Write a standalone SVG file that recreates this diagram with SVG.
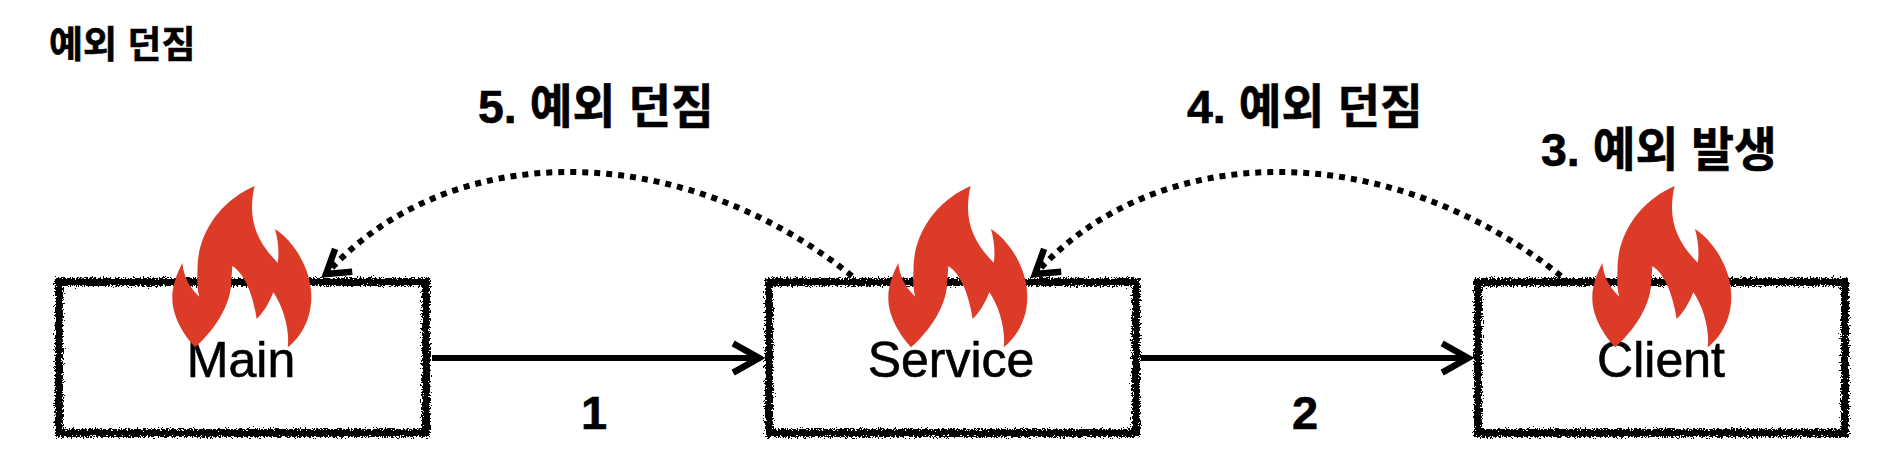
<svg xmlns="http://www.w3.org/2000/svg" width="1904" height="464" viewBox="0 0 1904 464">
<style>
.box{fill:#fff;stroke:#000;stroke-width:8;filter:url(#rough)}
.flame{fill:#dc3c27}
.name{font-family:"Liberation Sans",Arial,sans-serif;font-size:50px;fill:#000;stroke:#000;stroke-width:.6;text-anchor:middle}
.lab{font-family:"Liberation Sans","Noto Sans CJK KR",sans-serif;font-weight:700;fill:#000;stroke:#000;stroke-width:.6}
.big{font-size:46.5px}
.solid{fill:none;stroke:#000;stroke-width:6}
.dot{fill:none;stroke:#000;stroke-width:6;stroke-dasharray:6 6}
.head{fill:none;stroke:#000;stroke-width:6.5;stroke-linecap:square}
</style>
<defs>
<filter id="rough" x="-5%" y="-10%" width="110%" height="120%">
<feTurbulence type="fractalNoise" baseFrequency="0.6" numOctaves="3" seed="4" result="n"/>
<feDisplacementMap in="SourceGraphic" in2="n" scale="8" xChannelSelector="R" yChannelSelector="G"/>
</filter>
<path id="fl" d="M104.700 16C72 30 47 62 47.500 100C47 112 47 118 49.300 126.700C40 118 34 108 32.300 93C26 105 22 118 22.300 128C22.300 148 35 166 45 177.300C65 160 80 135 81 115C81.500 108 82 102 82.300 96C95 104 103 125 106.700 149C114 142 119 133 123.300 122.300C133 136 140 160 137.700 177.300C152 166 161.300 148 161.300 126.700C161.300 100 145 72 125 59C128 70 129.500 82 127.700 92.700C115 80 102 62 102 38C102 30 103 22 104.700 16Z"/>
</defs>
<rect width="1904" height="464" fill="#fff"/>
<text class="lab" x="49" y="58" font-size="37" id="title">예외 던짐</text>
<g id="connectors">
<path class="solid" d="M432 358H758"/>
<path class="head" d="M736 345L759 358L736 371"/>
<path class="solid" d="M1141 358H1467"/>
<path class="head" d="M1445 345L1468 358L1445 371"/>
<path class="dot" d="M852 276C680 138 450 138 328 272"/>
<path class="head" d="M334 252L326 274L349 272"/>
<path class="dot" d="M1561 276C1389 138 1159 138 1037 272"/>
<path class="head" d="M1043 252L1035 274L1058 272"/>
</g>
<text class="lab big" x="478" y="123">5. 예외 던짐</text>
<text class="lab big" x="1187" y="123">4. 예외 던짐</text>
<text class="lab big" x="1541" y="166">3. 예외 발생</text>
<text class="lab" x="594" y="429" font-size="47" text-anchor="middle">1</text>
<text class="lab" x="1305" y="429" font-size="47" text-anchor="middle">2</text>
<g id="node-main">
<rect class="box" x="59" y="282" width="367" height="151"/>
<text class="name" x="241" y="377">Main</text>
<use href="#fl" class="flame" x="150" y="170"/>
</g>
<g id="node-service">
<rect class="box" x="769" y="282" width="367" height="151"/>
<text class="name" x="951" y="377">Service</text>
<use href="#fl" class="flame" x="866" y="170"/>
</g>
<g id="node-client">
<rect class="box" x="1478" y="282" width="367" height="151"/>
<text class="name" x="1661" y="377">Client</text>
<use href="#fl" class="flame" x="1570" y="170"/>
</g>
</svg>
